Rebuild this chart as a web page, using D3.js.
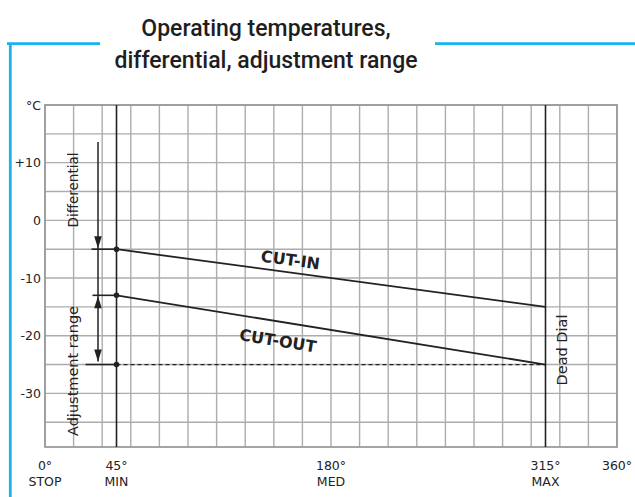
<!DOCTYPE html>
<html>
<head>
<meta charset="utf-8">
<script src="https://cdn.jsdelivr.net/npm/d3@7"></script>
<style>
  html, body { margin: 0; padding: 0; background: #fff; }
  svg { display: block; }
</style>
</head>
<body>
<svg id="chart" width="635" height="497"></svg>
<script>
// ---------- data ----------
const titleLines = ["Operating temperatures,", "differential, adjustment range"];
const xTickValues = [0, 45, 180, 315, 360];
const xTickDegrees = ["0°", "45°", "180°", "315°", "360°"];
const xTickNames = ["STOP", "MIN", "MED", "MAX", ""];
const yTickValues = [10, 0, -10, -20, -30];
const yTickLabels = ["+10", "0", "-10", "-20", "-30"];
const yUnit = "°C";
const dialStops = [45, 315];              // MIN and MAX dial stops (vertical lines)
const cutInDial = [45, 315];
const cutInTemp = [-5, -15];
const cutOutDial = [45, 315];
const cutOutTemp = [-13, -25];
const deadDialTemp = -25;                  // dashed reference line
const differentialArrow = [13.6, -5];      // arrow from .. to (°C)
const adjustmentArrow = [-13, -25];        // double arrow (°C)
const leaderStart = [-5, -13, -25];        // short horizontal leaders at the left
const leaderLen = [25, 24, 31];

// ---------- layout ----------
const svg = d3.select("#chart");
const pL = 45, pR = 617, pT = 105, pB = 447;
const x = d3.scaleLinear().domain([0, 360]).range([pL, pR]);
const y = d3.scaleLinear().domain([20, -39.3]).range([pT, pB]);
const ink = "#222";
const blue = "#19b3ee";
const gridCol = "#acacac";
const font = "'DejaVu Sans', sans-serif";

svg.append("rect").attr("width", 635).attr("height", 497).attr("fill", "#fff");

// blue frame
svg.append("path")
  .attr("d", "M7,43.7 H100 M435,43.7 H635 M10.3,42.4 V497")
  .attr("stroke", blue).attr("stroke-width", 2.8).attr("fill", "none");

// title
svg.append("g").selectAll("text").data(titleLines).join("text")
  .attr("x", 266).attr("y", (d, i) => 35.5 + i * 32.5)
  .attr("text-anchor", "middle")
  .attr("font-family", "'Roboto', sans-serif")
  .attr("font-size", 23).attr("font-weight", 500)
  .attr("fill", "#1e1e1e")
  .text(d => d);

// grid
const xGrid = d3.range(0, 361, 18);
const yGrid = d3.range(20, -36, -5);
const g = svg.append("g");
g.selectAll("line.vx").data(xGrid).join("line")
  .attr("x1", d => x(d)).attr("x2", d => x(d))
  .attr("y1", pT).attr("y2", pB)
  .attr("stroke", gridCol).attr("stroke-width", 1.4);
g.selectAll("line.hy").data(yGrid).join("line")
  .attr("x1", pL).attr("x2", pR)
  .attr("y1", d => y(d)).attr("y2", d => y(d))
  .attr("stroke", gridCol).attr("stroke-width", 1.4);
g.append("rect")
  .attr("x", pL).attr("y", pT).attr("width", pR - pL).attr("height", pB - pT)
  .attr("fill", "none").attr("stroke", "#9c9c9c").attr("stroke-width", 1.8);

// y tick labels
svg.append("g").selectAll("text").data(yTickValues).join("text")
  .attr("x", 41).attr("y", d => y(d) + 4.5)
  .attr("text-anchor", "end")
  .attr("font-family", font).attr("font-size", 12.5).attr("fill", ink)
  .text((d, i) => yTickLabels[i]);
svg.append("text").attr("x", 41).attr("y", pT + 4.5)
  .attr("text-anchor", "end")
  .attr("font-family", font).attr("font-size", 12.5).attr("fill", ink)
  .text(yUnit);

// x tick labels
const xl = svg.append("g").attr("font-family", font).attr("font-size", 12.5).attr("fill", ink)
  .attr("text-anchor", "middle");
xl.selectAll("text.deg").data(xTickValues).join("text")
  .attr("class", "deg")
  .attr("x", d => x(d)).attr("y", 469.5)
  .text((d, i) => xTickDegrees[i]);
xl.selectAll("text.nm").data(xTickValues).join("text")
  .attr("class", "nm")
  .attr("x", d => x(d)).attr("y", 486)
  .text((d, i) => xTickNames[i]);

// dial stop lines
svg.append("g").selectAll("line").data(dialStops).join("line")
  .attr("x1", d => x(d)).attr("x2", d => x(d))
  .attr("y1", pT).attr("y2", pB)
  .attr("stroke", ink).attr("stroke-width", 1.6);

// dashed line
svg.append("line")
  .attr("x1", x(cutOutDial[0])).attr("x2", x(cutOutDial[1]))
  .attr("y1", y(deadDialTemp)).attr("y2", y(deadDialTemp))
  .attr("stroke", ink).attr("stroke-width", 1.3).attr("stroke-dasharray", "4,3");

// cut-in / cut-out lines
const line = d3.line().x(d => x(d[0])).y(d => y(d[1]));
const cutIn = cutInDial.map((d, i) => [d, cutInTemp[i]]);
const cutOut = cutOutDial.map((d, i) => [d, cutOutTemp[i]]);
[cutIn, cutOut].forEach(s => {
  svg.append("path").attr("d", line(s))
    .attr("fill", "none").attr("stroke", ink).attr("stroke-width", 1.8);
});

// leaders
svg.append("g").selectAll("line").data(leaderStart).join("line")
  .attr("x1", (d, i) => x(45) - leaderLen[i]).attr("x2", x(45))
  .attr("y1", d => y(d)).attr("y2", d => y(d))
  .attr("stroke", ink).attr("stroke-width", 1.6);

// dots
svg.append("g").selectAll("circle").data([cutInTemp[0], cutOutTemp[0], deadDialTemp]).join("circle")
  .attr("cx", x(45)).attr("cy", d => y(d)).attr("r", 2.8).attr("fill", ink);

// arrows
const ax = 98;
svg.append("line").attr("x1", ax).attr("x2", ax)
  .attr("y1", y(differentialArrow[0])).attr("y2", y(adjustmentArrow[0]))
  .attr("stroke", ink).attr("stroke-width", 1.5);
svg.append("line").attr("x1", ax).attr("x2", ax)
  .attr("y1", y(adjustmentArrow[0])).attr("y2", y(adjustmentArrow[1]) - 3)
  .attr("stroke", ink).attr("stroke-width", 1.5);
function head(tipY, dir) { // dir 1 = pointing down, -1 = up
  const h = 12, w = 3.8;
  return `M${ax},${tipY} L${ax - w},${tipY - dir * h} L${ax + w},${tipY - dir * h} Z`;
}
svg.append("path").attr("d", head(y(differentialArrow[1]) - 1, 1)).attr("fill", ink);
svg.append("path").attr("d", head(y(adjustmentArrow[0]) + 1, -1)).attr("fill", ink);
svg.append("path").attr("d", head(y(adjustmentArrow[1]) - 3, 1)).attr("fill", ink);

// rotated annotations
function vtext(cx, cy, txt, size) {
  svg.append("text")
    .attr("transform", `translate(${cx},${cy}) rotate(-90)`)
    .attr("text-anchor", "middle").attr("dy", "0.35em")
    .attr("font-family", font).attr("font-size", size).attr("fill", ink)
    .text(txt);
}
vtext(73, 190, "Differential", 13.5);
vtext(73, 371, "Adjustment range", 14.5);
vtext(562, 350, "Dead Dial", 14.5);

// line labels
function slopeLabel(s, dialPos, offset, txt) {
  const x0 = x(s[0][0]), y0 = y(s[0][1]), x1 = x(s[1][0]), y1 = y(s[1][1]);
  const ang = Math.atan2(y1 - y0, x1 - x0) * 180 / Math.PI;
  const px = x(dialPos);
  const py = y0 + (px - x0) * (y1 - y0) / (x1 - x0) + offset;
  svg.append("text")
    .attr("transform", `translate(${px},${py}) rotate(${ang})`)
    .attr("text-anchor", "middle")
    .attr("font-family", font).attr("font-size", 16).attr("font-weight", "bold")
    .attr("fill", ink)
    .text(txt);
}
slopeLabel(cutIn, 154, -7, "CUT-IN");
slopeLabel(cutOut, 146, 25, "CUT-OUT");
</script>
</body>
</html>
